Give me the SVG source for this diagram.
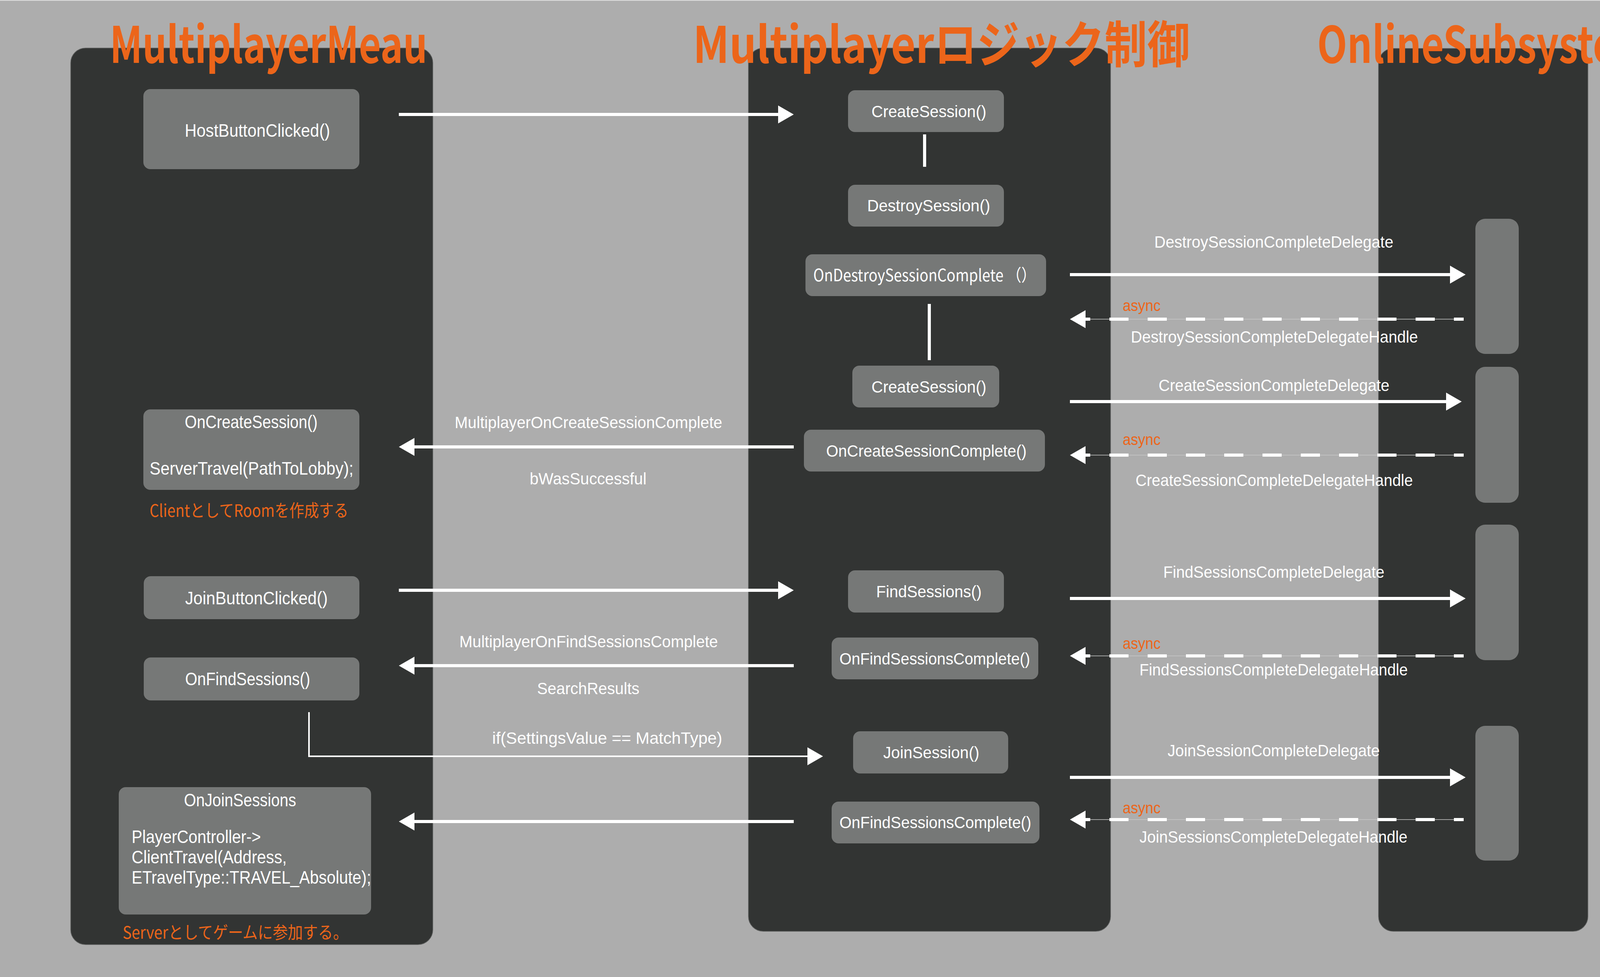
<svg xmlns="http://www.w3.org/2000/svg" width="4378" height="2501" viewBox="0 0 4378 2501">
<defs>
<style>
.bg{fill:#adadad}
.panel{fill:#323433;stroke:#5c5e5d;stroke-width:1.5}
.node{fill:#767877}
.bar{fill:#767877}
.t{font-family:"Liberation Sans","Noto Sans CJK JP",sans-serif;fill:#ffffff}
.j{font-family:"Noto Sans CJK JP","Liberation Sans",sans-serif}
.n1{font-size:46px}
.n2{font-size:43px}
.lb{font-size:43px}
.or{fill:#ec651a}
.as{font-size:40px}
.title{font-family:"Noto Sans CJK JP","Liberation Sans",sans-serif;font-weight:bold;font-size:128px;fill:#ec651a}
.ln{stroke:#ffffff;stroke-width:8;fill:none}
.thin{stroke:#ffffff;stroke-width:4;fill:none}
.dash{stroke:#ffffff;stroke-width:8;fill:none;stroke-dasharray:49 49}
.hair{stroke:#c9c9c9;stroke-width:1.5;fill:none}
</style>
<marker id="ah" markerUnits="userSpaceOnUse" markerWidth="40" markerHeight="46" viewBox="0 0 40 46" refX="0" refY="23" orient="auto">
<path d="M0,0 L40,23 L0,46 z" fill="#ffffff"/>
</marker>
</defs>
<rect class="bg" x="0" y="0" width="4378" height="2501"/>
<line x1="0" y1="1" x2="4378" y2="1" stroke="#dcdcdc" stroke-width="2"/>
<g id="lanes">
<rect class="panel" x="181" y="123" width="927" height="2295" rx="38"/>
<rect class="panel" x="1916" y="123" width="927" height="2261" rx="38"/>
<rect class="panel" x="3529" y="124" width="536" height="2260" rx="38"/>
</g>
<g id="titles">
<text class="title" x="281" y="161" textLength="813" lengthAdjust="spacingAndGlyphs">MultiplayerMeau</text>
<text class="title" x="1774" y="161" textLength="1272" lengthAdjust="spacingAndGlyphs">Multiplayerロジック制御</text>
<text class="title" x="3372" y="161" textLength="860" lengthAdjust="spacingAndGlyphs">OnlineSubsystem</text>
</g>
<g id="activation-bars">
<rect class="bar" x="3777" y="560" width="111" height="346" rx="25"/>
<rect class="bar" x="3777" y="939" width="111" height="348" rx="25"/>
<rect class="bar" x="3777" y="1343" width="111" height="347" rx="25"/>
<rect class="bar" x="3777" y="1858" width="111" height="345" rx="25"/>
</g>
<g id="connectors">
<line class="ln" x1="1021" y1="293" x2="1992" y2="293" marker-end="url(#ah)"/>
<line class="ln" x1="2367" y1="344" x2="2367" y2="427"/>
<line class="ln" x1="2379" y1="778" x2="2379" y2="922"/>
<line class="ln" x1="2739" y1="703" x2="3712" y2="703" marker-end="url(#ah)"/>
<g><line class="hair" x1="2779" y1="817" x2="3747" y2="817"/><line class="dash" x1="2840" y1="817" x2="3747" y2="817"/><line class="ln" x1="2791" y1="817" x2="2779" y2="817" marker-end="url(#ah)"/></g>
<line class="ln" x1="2739" y1="1028" x2="3702" y2="1028" marker-end="url(#ah)"/>
<g><line class="hair" x1="2779" y1="1165" x2="3747" y2="1165"/><line class="dash" x1="2840" y1="1165" x2="3747" y2="1165"/><line class="ln" x1="2791" y1="1165" x2="2779" y2="1165" marker-end="url(#ah)"/></g>
<line class="ln" x1="2032" y1="1144" x2="1061" y2="1144" marker-end="url(#ah)"/>
<line class="ln" x1="1021" y1="1511" x2="1992" y2="1511" marker-end="url(#ah)"/>
<line class="ln" x1="2739" y1="1532" x2="3712" y2="1532" marker-end="url(#ah)"/>
<g><line class="hair" x1="2779" y1="1679" x2="3747" y2="1679"/><line class="dash" x1="2840" y1="1679" x2="3747" y2="1679"/><line class="ln" x1="2791" y1="1679" x2="2779" y2="1679" marker-end="url(#ah)"/></g>
<line class="ln" x1="2032" y1="1704" x2="1061" y2="1704" marker-end="url(#ah)"/>
<path class="thin" d="M791,1823 L791,1936 L2067,1936" marker-end="url(#ah)"/>
<line class="ln" x1="2739" y1="1990" x2="3712" y2="1990" marker-end="url(#ah)"/>
<g><line class="hair" x1="2779" y1="2098" x2="3747" y2="2098"/><line class="dash" x1="2840" y1="2098" x2="3747" y2="2098"/><line class="ln" x1="2791" y1="2098" x2="2779" y2="2098" marker-end="url(#ah)"/></g>
<line class="ln" x1="2032" y1="2103" x2="1061" y2="2103" marker-end="url(#ah)"/>
</g>
<g id="connector-labels">
<text class="t lb" x="2955" y="634" textLength="612" lengthAdjust="spacingAndGlyphs">DestroySessionCompleteDelegate</text>
<text class="t as or" x="2874" y="796" textLength="97" lengthAdjust="spacingAndGlyphs">async</text>
<text class="t lb" x="2895" y="877" textLength="735" lengthAdjust="spacingAndGlyphs">DestroySessionCompleteDelegateHandle</text>
<text class="t lb" x="2966" y="1001" textLength="591" lengthAdjust="spacingAndGlyphs">CreateSessionCompleteDelegate</text>
<text class="t as or" x="2874" y="1139" textLength="97" lengthAdjust="spacingAndGlyphs">async</text>
<text class="t lb" x="2907" y="1244" textLength="710" lengthAdjust="spacingAndGlyphs">CreateSessionCompleteDelegateHandle</text>
<text class="t lb" x="1164" y="1096" textLength="685" lengthAdjust="spacingAndGlyphs">MultiplayerOnCreateSessionComplete</text>
<text class="t lb" x="1356" y="1240" textLength="299" lengthAdjust="spacingAndGlyphs">bWasSuccessful</text>
<text class="t lb" x="2978" y="1479" textLength="566" lengthAdjust="spacingAndGlyphs">FindSessionsCompleteDelegate</text>
<text class="t as or" x="2874" y="1661" textLength="97" lengthAdjust="spacingAndGlyphs">async</text>
<text class="t lb" x="2917" y="1729" textLength="687" lengthAdjust="spacingAndGlyphs">FindSessionsCompleteDelegateHandle</text>
<text class="t lb" x="1176" y="1657" textLength="662" lengthAdjust="spacingAndGlyphs">MultiplayerOnFindSessionsComplete</text>
<text class="t lb" x="1375" y="1777" textLength="262" lengthAdjust="spacingAndGlyphs">SearchResults</text>
<text class="t lb" x="1260" y="1904" textLength="589" lengthAdjust="spacingAndGlyphs">if(SettingsValue == MatchType)</text>
<text class="t lb" x="2989" y="1936" textLength="543" lengthAdjust="spacingAndGlyphs">JoinSessionCompleteDelegate</text>
<text class="t as or" x="2874" y="2082" textLength="97" lengthAdjust="spacingAndGlyphs">async</text>
<text class="t lb" x="2917" y="2157" textLength="686" lengthAdjust="spacingAndGlyphs">JoinSessionsCompleteDelegateHandle</text>
</g>
<g id="notes">
<text class="t j or" font-size="44" x="383" y="1323" textLength="509" lengthAdjust="spacingAndGlyphs">ClientとしてRoomを作成する</text>
<text class="t j or" font-size="44" x="314" y="2403" textLength="577" lengthAdjust="spacingAndGlyphs">Serverとしてゲームに参加する。</text>
</g>
<g id="HostButtonClicked">
<rect class="node" x="367" y="228" width="553" height="205" rx="18"/>
<text class="t n1" x="473" y="350" textLength="372" lengthAdjust="spacingAndGlyphs">HostButtonClicked()</text>
</g>
<g id="OnCreateSession">
<rect class="node" x="367" y="1048" width="553" height="206" rx="18"/>
<text class="t n1" x="473" y="1096" textLength="340" lengthAdjust="spacingAndGlyphs">OnCreateSession()</text>
<text class="t n1" x="383" y="1215" textLength="522" lengthAdjust="spacingAndGlyphs">ServerTravel(PathToLobby);</text>
</g>
<g id="JoinButtonClicked">
<rect class="node" x="368" y="1475" width="552" height="110" rx="18"/>
<text class="t n1" x="474" y="1547" textLength="365" lengthAdjust="spacingAndGlyphs">JoinButtonClicked()</text>
</g>
<g id="OnFindSessions">
<rect class="node" x="368" y="1683" width="552" height="110" rx="18"/>
<text class="t n1" x="474" y="1754" textLength="320" lengthAdjust="spacingAndGlyphs">OnFindSessions()</text>
</g>
<g id="OnJoinSessions">
<rect class="node" x="304" y="2015" width="646" height="326" rx="18"/>
<text class="t n1" x="471" y="2064" textLength="287" lengthAdjust="spacingAndGlyphs">OnJoinSessions</text>
<text class="t n1" x="337" y="2158" textLength="331" lengthAdjust="spacingAndGlyphs">PlayerController-&gt;</text>
<text class="t n1" x="337" y="2210" textLength="397" lengthAdjust="spacingAndGlyphs">ClientTravel(Address,</text>
<text class="t n1" x="337" y="2262" textLength="613" lengthAdjust="spacingAndGlyphs">ETravelType::TRAVEL_Absolute);</text>
</g>
<g id="CreateSession1">
<rect class="node" x="2171" y="231" width="399" height="107" rx="18"/>
<text class="t n2" x="2231" y="300" textLength="294" lengthAdjust="spacingAndGlyphs">CreateSession()</text>
</g>
<g id="DestroySession">
<rect class="node" x="2171" y="473" width="399" height="107" rx="18"/>
<text class="t n2" x="2220" y="541" textLength="315" lengthAdjust="spacingAndGlyphs">DestroySession()</text>
</g>
<g id="OnDestroySessionComplete">
<rect class="node" x="2062" y="651" width="616" height="107" rx="18"/>
<text class="t j n2" x="2082" y="720" textLength="570" lengthAdjust="spacingAndGlyphs">OnDestroySessionComplete （）</text>
</g>
<g id="CreateSession2">
<rect class="node" x="2182" y="936" width="376" height="107" rx="18"/>
<text class="t n2" x="2231" y="1005" textLength="294" lengthAdjust="spacingAndGlyphs">CreateSession()</text>
</g>
<g id="OnCreateSessionComplete">
<rect class="node" x="2058" y="1100" width="617" height="107" rx="18"/>
<text class="t n2" x="2115" y="1169" textLength="513" lengthAdjust="spacingAndGlyphs">OnCreateSessionComplete()</text>
</g>
<g id="FindSessions">
<rect class="node" x="2171" y="1460" width="399" height="108" rx="18"/>
<text class="t n2" x="2243" y="1529" textLength="270" lengthAdjust="spacingAndGlyphs">FindSessions()</text>
</g>
<g id="OnFindSessionsComplete1">
<rect class="node" x="2129" y="1632" width="529" height="107" rx="18"/>
<text class="t n2" x="2149" y="1701" textLength="488" lengthAdjust="spacingAndGlyphs">OnFindSessionsComplete()</text>
</g>
<g id="JoinSession">
<rect class="node" x="2184" y="1872" width="397" height="108" rx="18"/>
<text class="t n2" x="2261" y="1941" textLength="246" lengthAdjust="spacingAndGlyphs">JoinSession()</text>
</g>
<g id="OnFindSessionsComplete2">
<rect class="node" x="2129" y="2052" width="532" height="107" rx="18"/>
<text class="t n2" x="2149" y="2120" textLength="491" lengthAdjust="spacingAndGlyphs">OnFindSessionsComplete()</text>
</g>
</svg>
